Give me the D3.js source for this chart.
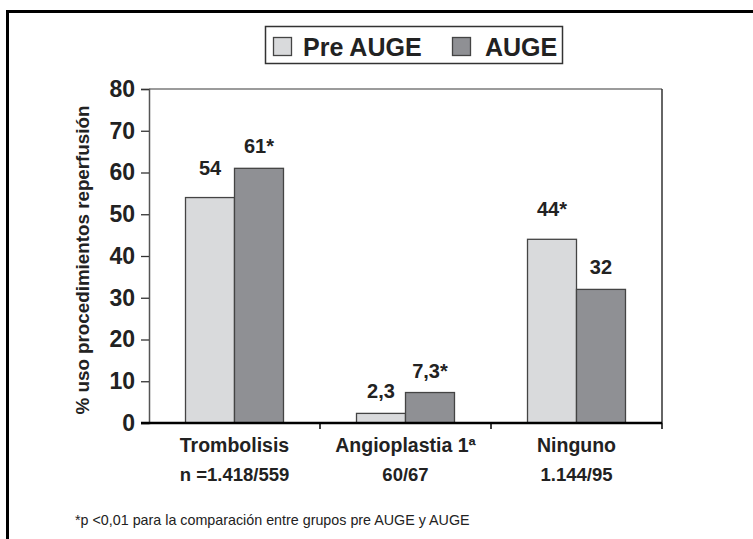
<!DOCTYPE html>
<html>
<head>
<meta charset="utf-8">
<script src="https://cdn.jsdelivr.net/npm/d3@7/dist/d3.min.js"></script>
<style>
  html, body { margin: 0; padding: 0; background: #fff; }
  svg { display: block; font-family: "Liberation Sans", Arial, sans-serif; }
</style>
</head>
<body>
<svg id="chart" width="753" height="539"></svg>
<script>
// ---- data ----
const categories = ["Trombolisis", "Angioplastia 1ª", "Ninguno"];
const sampleLabels = ["n =1.418/559", "60/67", "1.144/95"];
const seriesNames = ["Pre AUGE", "AUGE"];
const preAuge = [54, 2.3, 44];
const auge = [61, 7.3, 32];
const preSignificant = [false, false, true];
const augeSignificant = [true, true, false];
const yTicks = [0, 10, 20, 30, 40, 50, 60, 70, 80];
const yTitle = "% uso procedimientos reperfusión";
const footnote = "*p <0,01 para la comparación entre grupos pre AUGE y AUGE";

// ---- layout ----
const svg = d3.select("#chart");
const L = 149, R = 662, T = 89, B = 423;
const colors = ["#d9dadc", "#8f9094"];
const textColor = "#222";

const x = d3.scaleBand().domain(categories).range([L, R]).paddingInner(0).paddingOuter(0);
const x1 = d3.scaleBand().domain(seriesNames).range([0, x.bandwidth()]).paddingInner(0).paddingOuter(0.745);
const y = d3.scaleLinear().domain([0, 80]).range([B, T]);

// outer frame
svg.append("path")
  .attr("d", `M7.5,539 V11.5 H753`)
  .attr("fill", "none").attr("stroke", "#000").attr("stroke-width", 3);

// plot frame top & right
svg.append("line").attr("x1", L).attr("x2", R).attr("y1", T).attr("y2", T)
  .attr("stroke", "#7a7a7a").attr("stroke-width", 1.5);
svg.append("line").attr("x1", R).attr("x2", R).attr("y1", T).attr("y2", B)
  .attr("stroke", "#333").attr("stroke-width", 1.5);

// bars
const rows = categories.map((c, i) => ({
  cat: c,
  vals: [
    { s: seriesNames[0], v: preAuge[i], sig: preSignificant[i], si: 0 },
    { s: seriesNames[1], v: auge[i], sig: augeSignificant[i], si: 1 }
  ]
}));

const g = svg.selectAll("g.grp").data(rows).enter().append("g")
  .attr("class", "grp")
  .attr("transform", d => `translate(${x(d.cat)},0)`);

g.selectAll("rect").data(d => d.vals).enter().append("rect")
  .attr("x", d => x1(d.s))
  .attr("y", d => y(d.v))
  .attr("width", x1.bandwidth())
  .attr("height", d => y(0) - y(d.v))
  .attr("fill", d => colors[d.si])
  .attr("stroke", "#444")
  .attr("stroke-width", 1.3);

// value labels
const lift = (cat, si) => ((si === 0 && (cat === categories[0] || cat === categories[2])) ? 23 : 15);
g.each(function(d) {
  d3.select(this).selectAll("text.val").data(d.vals).enter().append("text")
    .attr("class", "val")
    .attr("x", v => x1(v.s) + x1.bandwidth() / 2)
    .attr("y", v => y(v.v) - lift(d.cat, v.si))
    .attr("text-anchor", "middle")
    .attr("font-size", 20).attr("font-weight", "bold").attr("fill", textColor)
    .text(v => String(v.v).replace(".", ",") + (v.sig ? "*" : ""));
});

// y axis
const yAxis = d3.axisLeft(y).tickValues(yTicks).tickSize(8).tickPadding(6).tickFormat(d3.format("d"));
const ya = svg.append("g").attr("transform", `translate(${L},0)`).call(yAxis);
ya.select(".domain").attr("stroke", "#555").attr("stroke-width", 1.5);
ya.selectAll(".tick line").attr("stroke", "#333").attr("stroke-width", 1.3);
ya.selectAll(".tick text").attr("font-size", 23).attr("font-weight", "bold")
  .attr("fill", textColor).attr("font-family", "Liberation Sans, Arial, sans-serif");

// x axis
const xa = svg.append("g").attr("transform", `translate(0,${B})`)
  .call(d3.axisBottom(x).tickValues([]).tickSizeOuter(0));
xa.select(".domain").remove();
svg.append("line").attr("x1", L - 8).attr("x2", R).attr("y1", B).attr("y2", B)
  .attr("stroke", "#000").attr("stroke-width", 2.5);
svg.selectAll("line.xtick").data(categories).enter().append("line")
  .attr("class", "xtick")
  .attr("x1", d => x(d) + x.bandwidth()).attr("x2", d => x(d) + x.bandwidth())
  .attr("y1", B).attr("y2", B + 6)
  .attr("stroke", "#000").attr("stroke-width", 1.5);

// category labels
svg.selectAll("text.cat").data(categories).enter().append("text")
  .attr("class", "cat")
  .attr("x", d => x(d) + x.bandwidth() / 2)
  .attr("y", 452)
  .attr("text-anchor", "middle")
  .attr("font-size", 19.5).attr("font-weight", "bold").attr("fill", textColor)
  .text(d => d);
svg.selectAll("text.n").data(categories).enter().append("text")
  .attr("class", "n")
  .attr("x", d => x(d) + x.bandwidth() / 2)
  .attr("y", 481)
  .attr("text-anchor", "middle")
  .attr("font-size", 18.5).attr("font-weight", "bold").attr("fill", textColor)
  .text((d, i) => sampleLabels[i]);

// y title
svg.append("text")
  .attr("transform", `translate(89,260) rotate(-90)`)
  .attr("text-anchor", "middle")
  .attr("font-size", 18.8).attr("font-weight", "bold").attr("fill", textColor)
  .text(yTitle);

// legend
svg.append("rect").attr("x", 265.5).attr("y", 26.5).attr("width", 297).attr("height", 37)
  .attr("fill", "#fff").attr("stroke", "#333").attr("stroke-width", 1.5);
const legX = [273, 452];
const legTX = [303, 485];
seriesNames.forEach((s, i) => {
  svg.append("rect").attr("x", legX[i] + 0.5).attr("y", 37.5).attr("width", 18).attr("height", 18)
    .attr("fill", colors[i]).attr("stroke", "#444").attr("stroke-width", 1.3);
  svg.append("text").attr("x", legTX[i]).attr("y", 56)
    .attr("font-size", 25).attr("font-weight", "bold").attr("fill", textColor)
    .text(s);
});

// footnote
svg.append("text").attr("x", 75).attr("y", 525)
  .attr("font-size", 14.3).attr("fill", textColor)
  .text(footnote);
</script>
</body>
</html>
